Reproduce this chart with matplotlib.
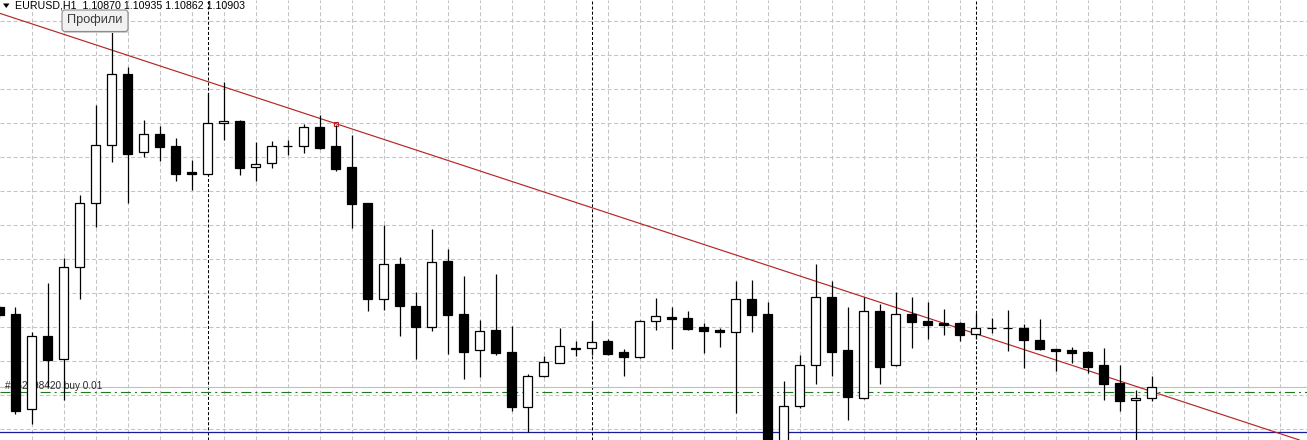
import numpy as np
import matplotlib
matplotlib.use('Agg')
import matplotlib.pyplot as plt
from matplotlib.patches import FancyBboxPatch, Polygon
from matplotlib.transforms import Affine2D

# === Данные: часовые бары EURUSD, индекс -1 обрезан левым краем ===
bar_index = list(range(-1, 72))
opens = [1.11137, 1.11117, 1.10837, 1.11052, 1.10984, 1.11254, 1.11442, 1.11613, 1.11822, 1.11592,
         1.11645, 1.11611, 1.11534, 1.11529, 1.11678, 1.11684, 1.11548, 1.11560, 1.11610, 1.11610,
         1.11666, 1.11610, 1.11548, 1.11442, 1.11162, 1.11263, 1.11139, 1.11079, 1.11272, 1.11117,
         1.11010, 1.11070, 1.11004, 1.10844, 1.10935, 1.10974, 1.11014, 1.11016, 1.11037, 1.11004,
         1.10991, 1.11095, 1.11108, 1.11105, 1.11079, 1.11071, 1.11063, 1.11161, 1.11117, 1.10735,
         1.10845, 1.10966, 1.11166, 1.11010, 1.10871, 1.11125, 1.10966, 1.11116, 1.11096, 1.11090,
         1.11090, 1.11057, 1.11075, 1.11075, 1.11075, 1.11039, 1.11014, 1.11011, 1.11006, 1.10967,
         1.10914, 1.10863, 1.10870]
highs = [1.11143, 1.11136, 1.11065, 1.11207, 1.11281, 1.11467, 1.11732, 1.11961, 1.11842, 1.11687,
         1.11670, 1.11634, 1.11570, 1.11766, 1.11800, 1.11686, 1.11622, 1.11626, 1.11629, 1.11675,
         1.11702, 1.11673, 1.11643, 1.11444, 1.11379, 1.11284, 1.11181, 1.11367, 1.11307, 1.11229,
         1.11099, 1.11234, 1.11081, 1.10941, 1.10993, 1.11076, 1.11037, 1.11095, 1.11042, 1.11014,
         1.11098, 1.11163, 1.11137, 1.11126, 1.11089, 1.11076, 1.11215, 1.11217, 1.11151, 1.10920,
         1.10996, 1.11264, 1.11214, 1.11137, 1.11166, 1.11145, 1.11182, 1.11166, 1.11152, 1.11131,
         1.11092, 1.11119, 1.11105, 1.11129, 1.11087, 1.11102, 1.11015, 1.11020, 1.11008, 1.11017,
         1.10967, 1.10893, 1.10935]
lows = [1.11105, 1.10824, 1.10792, 1.10902, 1.10864, 1.11160, 1.11374, 1.11565, 1.11444, 1.11578,
        1.11568, 1.11509, 1.11482, 1.11526, 1.11629, 1.11526, 1.11509, 1.11547, 1.11584, 1.11589,
        1.11601, 1.11538, 1.11371, 1.11127, 1.11129, 1.11053, 1.10984, 1.11068, 1.10999, 1.10927,
        1.10932, 1.10996, 1.10832, 1.10769, 1.10932, 1.10972, 1.10993, 1.10996, 1.10995, 1.10935,
        1.10987, 1.11071, 1.11015, 1.11070, 1.11002, 1.11021, 1.10826, 1.11065, 1.10717, 1.10720,
        1.10840, 1.10912, 1.10934, 1.10805, 1.10867, 1.10912, 1.10964, 1.11018, 1.11044, 1.11056,
        1.11037, 1.11043, 1.11060, 1.11009, 1.10959, 1.11011, 1.10950, 1.10972, 1.10942, 1.10863,
        1.10832, 1.10746, 1.10862]
closes = [1.11114, 1.10832, 1.11051, 1.10982, 1.11254, 1.11442, 1.11613, 1.11822, 1.11588, 1.11645,
          1.11609, 1.11529, 1.11529, 1.11678, 1.11684, 1.11547, 1.11557, 1.11610, 1.11611, 1.11666,
          1.11606, 1.11543, 1.11441, 1.11162, 1.11263, 1.11141, 1.11079, 1.11269, 1.11115, 1.11006,
          1.11066, 1.11003, 1.10844, 1.10934, 1.10975, 1.11022, 1.11016, 1.11034, 1.10999, 1.10991,
          1.11095, 1.11110, 1.11103, 1.11074, 1.11068, 1.11065, 1.11160, 1.11114, 1.10732, 1.10845,
          1.10966, 1.11166, 1.11006, 1.10874, 1.11125, 1.10962, 1.11116, 1.11094, 1.11084, 1.11084,
          1.11056, 1.11076, 1.11075, 1.11075, 1.11040, 1.11014, 1.11008, 1.11003, 1.10962, 1.10912,
          1.10862, 1.10870, 1.10903]

symbol_label = 'EURUSD,H1'
last_ohlc = ['1.10870', '1.10935', '1.10862', '1.10903']
day_breaks = [12, 36, 60]                  # разделители периодов (индекс бара)
trend_points = [(20, 1.11677), (60, 1.11059)]
bid_price = 1.10903
order_price = 1.10888
order_label = '#152298420 buy 0.01'
level_price = 1.10769
tooltip_label = 'Профили'

W, H = 1307, 440
BAR_PX = 16.0
FIRST_BAR_PX = 15.5
PX_PER_PRICE = 34000.0
BID_Y_PX = 386.7


def main():
    plt.rcParams['font.family'] = ['Liberation Sans', 'DejaVu Sans']
    plt.rcParams['lines.scale_dashes'] = False

    fig = plt.figure(figsize=(W / 100, H / 100), dpi=100)
    fig.patch.set_facecolor('white')
    ax = fig.add_axes([0, 0, 1, 1])
    ax.set_facecolor('white')

    # масштаб как на графике терминала
    ax.set_xlim(-FIRST_BAR_PX / BAR_PX, (W - FIRST_BAR_PX) / BAR_PX)
    ax.set_ylim(bid_price - (H - BID_Y_PX) / PX_PER_PRICE, bid_price + BID_Y_PX / PX_PER_PRICE)

    # сетка
    ax.set_xticks(np.arange(1, 81, 2))
    ax.set_yticks(np.arange(1.1078, 1.1205, 0.001))
    ax.tick_params(length=0, labelbottom=False, labelleft=False)
    ax.set_axisbelow(True)
    ax.grid(True, color='#c4c4c4', linewidth=0.75, linestyle=(0, (2.9, 1.8)))
    for s in ax.spines.values():
        s.set_visible(False)

    # разделители дней
    for d in day_breaks:
        ax.axvline(d, color='black', linewidth=0.75, linestyle=(0, (2.2, 1.45)), zorder=1)

    # горизонтальные уровни
    ax.axhline(bid_price, color='#c0c0c0', linewidth=0.8, zorder=1.5)
    ax.axhline(order_price, color='#1f7a1f', linewidth=0.8,
               linestyle=(0, (7.2, 2.9, 1.45, 2.9)), zorder=1.6)
    ax.axhline(level_price, color='#1a1a9c', linewidth=0.9, zorder=1.6)

    # трендовая линия
    ax.axline(trend_points[0], trend_points[1], color='#b52525', linewidth=0.85, zorder=2)
    ax.plot(*trend_points[0], marker='s', ms=3.2, mfc='none', mec='#c02020', mew=0.8, zorder=2.1)

    ax.text(5 / W, 1 - 388.5 / H, order_label, transform=ax.transAxes, fontsize=7.2,
            color='#2a2a2a', va='baseline', ha='left', zorder=2.5)

    # свечи
    x = np.array(bar_index)
    o = np.array(opens)
    h = np.array(highs)
    l = np.array(lows)
    c = np.array(closes)
    bull = c >= o
    ax.vlines(x, l, h, color='black', linewidth=0.9, zorder=3)
    ax.bar(x, np.abs(c - o), bottom=np.minimum(o, c), width=0.58,
           color=np.where(bull, 'white', 'black'), edgecolor='black', linewidth=0.9, zorder=4)

    # надписи в пикселях от левого верхнего угла
    px = Affine2D().scale(1, -1).translate(0, H).scale(1 / fig.dpi) + fig.dpi_scale_trans
    fig.patches.append(Polygon([(3, 3.5), (9.5, 3.5), (6.25, 8)], closed=True,
                               facecolor='black', edgecolor='none', transform=px))
    header = symbol_label + '  ' + ' '.join(last_ohlc)
    fig.text(15, 1.0, header, transform=px, fontsize=7.7, color='black', va='top', ha='left')

    shadow = FancyBboxPatch((63, 11), 66, 22, boxstyle='round,pad=0,rounding_size=3',
                            facecolor='#cfcfcf', edgecolor='none', transform=px, zorder=5)
    box = FancyBboxPatch((62, 10), 66, 21.5, boxstyle='round,pad=0,rounding_size=3',
                         facecolor='#f1f1f1', edgecolor='#8c8c8c', linewidth=0.8,
                         transform=px, zorder=6)
    fig.patches.extend([shadow, box])
    fig.text(95, 20.5, tooltip_label, transform=px, fontsize=9.2, color='#3a3a3a',
             va='center', ha='center', zorder=7)

    fig.savefig('out.png', dpi=100, facecolor='white')


if __name__ == '__main__':
    main()
